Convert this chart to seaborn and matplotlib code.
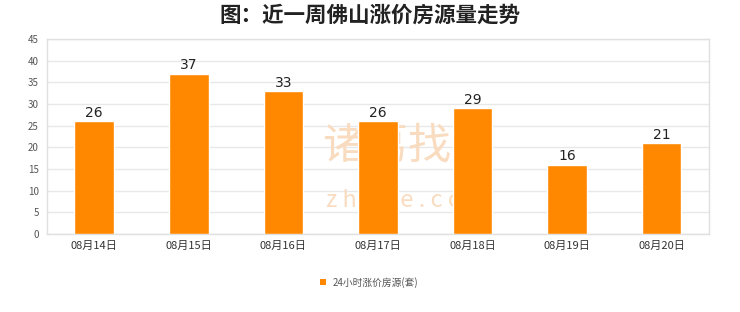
import matplotlib
matplotlib.use("Agg")
import matplotlib.pyplot as plt
import seaborn as sns
import pandas as pd

categories = ["08月14日", "08月15日", "08月16日", "08月17日", "08月18日", "08月19日", "08月20日"]
values = [26, 37, 33, 26, 29, 16, 21]
series_name = "24小时涨价房源(套)"
title = "图：近一周佛山涨价房源量走势"
yticks = [0, 5, 10, 15, 20, 25, 30, 35, 40, 45]

sns.set_theme(style="white")
plt.rcParams['font.family'] = ['Noto Sans CJK SC', 'DejaVu Sans']

df = pd.DataFrame({"date": categories, "count": values, "series": series_name})

fig = plt.figure(figsize=(7.4, 3.12), dpi=100)
ax = fig.add_axes([0.0635, 0.25, 0.8945, 0.625])

sns.barplot(data=df, x="date", y="count", hue="series", palette=["#FF8800"],
            width=0.42, ax=ax, zorder=3, legend=False, saturation=1)

ax.set_ylim(0, 45)
ax.set_yticks(yticks)
ax.set_xlim(-0.5, len(categories) - 0.5)
ax.yaxis.grid(True, color="#e8e8e8", linewidth=1, zorder=0)
ax.set_axisbelow(True)
for s in ax.spines.values():
    s.set_color("#e0e0e0")
    s.set_linewidth(1)
ax.set_xlabel("")
ax.set_ylabel("")
ax.tick_params(axis="y", labelsize=7, colors="#555555", length=0, pad=6)
ax.tick_params(axis="x", labelsize=8, colors="#333333", length=0, pad=5)

for c in ax.containers:
    ax.bar_label(c, labels=[str(v) for v in values], fontsize=10, color="#222222",
                 padding=1, family="DejaVu Sans")

# watermark
ax.text(0.545, 0.45, "诸葛找房", transform=ax.transAxes, ha="center", va="center",
        fontsize=31, color="#f9dcc0", zorder=1)
ax.text(0.545, 0.17, "z h u g e . c o m", transform=ax.transAxes, ha="center", va="center",
        fontsize=17, color="#f9dcc0", zorder=1)

fig.text(0.5, 0.952, title, ha="center", va="center", fontsize=15.5,
         fontweight="bold", color="#222222")

# legend
fig.patches.append(plt.Rectangle((0.432, 0.085), 0.009, 0.021, transform=fig.transFigure,
                                 facecolor="#FF8800", edgecolor="none"))
fig.text(0.449, 0.096, series_name, ha="left", va="center", fontsize=7, color="#555555")

fig.savefig("out.png", dpi=100, facecolor="white")
